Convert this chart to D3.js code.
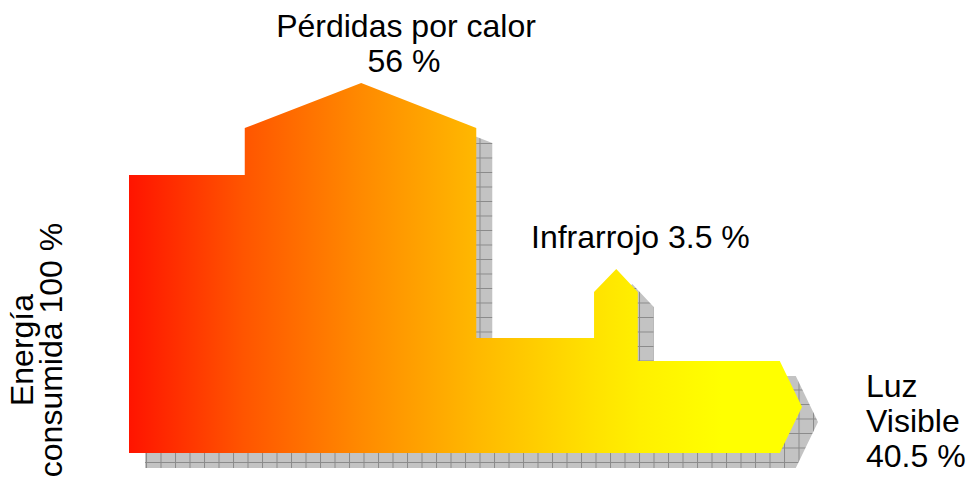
<!DOCTYPE html>
<html>
<head>
<meta charset="utf-8">
<script src="https://cdn.jsdelivr.net/npm/d3@7"></script>
<style>
  body { margin: 0; background: #fff; }
  text { font-family: "Liberation Sans", Arial, sans-serif; fill: #000; }
</style>
</head>
<body>
<svg id="viz"></svg>
<script>
let width = 971;
let height = 477;

// flujos (etiqueta, porcentaje)
const flows = ["Energía consumida", "Pérdidas por calor", "Infrarrojo", "Luz Visible"];
const percents = [100, 56, 3.5, 40.5];

// contorno del diagrama: avance del flujo (0-100) y nivel (% de la entrada)
const outlineStep = [0, 0, 17.2, 17.2, 34.5, 51.6, 51.6, 69.1, 69.1, 72.4, 75.6, 75.6, 96.7, 100, 96.7];
const outlineLevel = [0, 100, 100, 116.9, 133.1, 116.9, 41.4, 41.4, 57.9, 66.2, 57.9, 33.1, 33.1, 16.55, 0];

// colores del degradado a lo largo del flujo
const gradStops = [0, 0.17, 0.345, 0.515, 0.69, 0.76, 0.88, 1];
const gradColors = ["#ff1400", "#ff5500", "#ff8a00", "#ffb800", "#ffe200", "#fff000", "#ffff00", "#ffff00"];

let svg = d3.select("#viz")
    .attr("width", width)
    .attr("height", height);

let x = d3.scaleLinear().domain([0, 100]).range([129, 802]);
let y = d3.scaleLinear().domain([0, 100]).range([453, 175]);

let points = outlineStep.map((d, i) => [x(d), y(outlineLevel[i])]);
let line = d3.line().curve(d3.curveLinearClosed);

let defs = svg.append("defs");

let grad = defs.append("linearGradient")
    .attr("id", "flowGrad")
    .attr("gradientUnits", "userSpaceOnUse")
    .attr("x1", x(0)).attr("x2", x(100))
    .attr("y1", 0).attr("y2", 0);
grad.selectAll("stop").data(gradStops)
    .enter().append("stop")
    .attr("offset", d => d)
    .attr("stop-color", (d, i) => gradColors[i]);

let cell = 14.5;
let pat = defs.append("pattern")
    .attr("id", "grid")
    .attr("patternUnits", "userSpaceOnUse")
    .attr("width", cell).attr("height", cell)
    .attr("x", 159).attr("y", 157);
pat.append("rect")
    .attr("width", cell).attr("height", cell)
    .style("fill", "#c3c3c3");
pat.append("path")
    .attr("d", `M0.5,0 V${cell} M0,0.5 H${cell}`)
    .style("stroke", "#8a8a8a")
    .style("stroke-width", 1)
    .style("fill", "none");

// sombra
svg.append("path")
    .attr("d", line(points))
    .attr("transform", "translate(16,15)")
    .style("fill", "url(#grid)");

// forma principal
svg.append("path")
    .attr("d", line(points))
    .style("fill", "url(#flowGrad)");

let fs = "32px";

svg.append("text")
    .attr("x", 406).attr("y", 37)
    .style("font-size", fs)
    .style("text-anchor", "middle")
    .text(flows[1]);
svg.append("text")
    .attr("x", 404).attr("y", 72)
    .style("font-size", fs)
    .style("text-anchor", "middle")
    .text(`${percents[1]} %`);

svg.append("text")
    .attr("x", 531).attr("y", 248)
    .style("font-size", fs)
    .text(`${flows[2]} ${percents[2]} %`);

let luz = flows[3].split(" ").concat([`${percents[3]} %`]);
svg.selectAll("text.out").data(luz)
    .enter().append("text")
    .attr("class", "out")
    .attr("x", 866)
    .attr("y", (d, i) => 397 + i * 35)
    .style("font-size", fs)
    .text(d => d);

let vert = ["Energía", `consumida ${percents[0]} %`];
svg.selectAll("text.in").data(vert)
    .enter().append("text")
    .attr("class", "in")
    .attr("transform", (d, i) => `translate(${33 + i * 29},350) rotate(-90)`)
    .style("font-size", fs)
    .style("text-anchor", "middle")
    .text(d => d);
</script>
</body>
</html>
